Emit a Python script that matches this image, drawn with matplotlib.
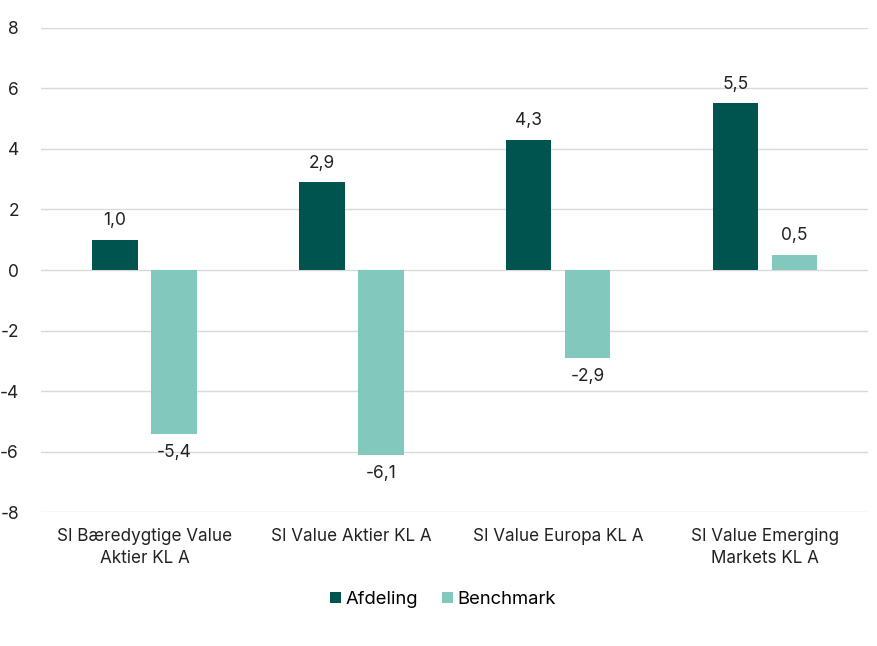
import numpy as np
import matplotlib.pyplot as plt

plt.rcParams['font.family'] = ['Inter', 'DejaVu Sans']
plt.rcParams['axes.unicode_minus'] = False

categories = ['SI Bæredygtige Value\nAktier KL A', 'SI Value Aktier KL A',
              'SI Value Europa KL A', 'SI Value Emerging\nMarkets KL A']
afdeling = [1.0, 2.9, 4.3, 5.5]
benchmark = [-5.4, -6.1, -2.9, 0.5]

dark = '#005450'
light = '#82C8BC'

fig = plt.figure(figsize=(8.77, 6.46), dpi=100)
ax = fig.add_axes([0.047, 0.207, 0.943, 0.75])

x = np.arange(len(categories))
w = 0.22
off = 0.143
b1 = ax.bar(x - off, afdeling, w, color=dark, label='Afdeling', zorder=3)
b2 = ax.bar(x + off, benchmark, w, color=light, label='Benchmark', zorder=3)

def fmt(v):
    return ('%.1f' % v).replace('.', ',')

for bars, vals in ((b1, afdeling), (b2, benchmark)):
    for r, v in zip(bars, vals):
        cx = r.get_x() + r.get_width() / 2
        if v >= 0:
            ax.text(cx, v + 0.35, fmt(v), ha='center', va='bottom', fontsize=12.5, color='#222222')
        else:
            ax.text(cx, v - 0.35, fmt(v), ha='center', va='top', fontsize=12.5, color='#222222')

ax.set_ylim(-8, 8)
ax.set_xlim(-0.5, 3.5)
ax.set_yticks(np.arange(-8, 9, 2))
ax.set_xticks(x)
ax.set_xticklabels(categories, fontsize=12.3, color='#222222', linespacing=1.45)
ax.tick_params(axis='y', labelsize=12.5, colors='#222222', length=0, pad=16)
ax.tick_params(axis='x', length=0, pad=11)
ax.grid(axis='y', color='#d9d9d9', linewidth=1, zorder=0)
for s in ax.spines.values():
    s.set_visible(False)

fig.legend(handles=[b1, b2], loc='center', bbox_to_anchor=(0.505, 0.072), ncol=2,
           frameon=False, fontsize=13.3, handlelength=0.6, handleheight=0.6,
           columnspacing=1.3, handletextpad=0.25)

fig.savefig('out.png', dpi=100)
